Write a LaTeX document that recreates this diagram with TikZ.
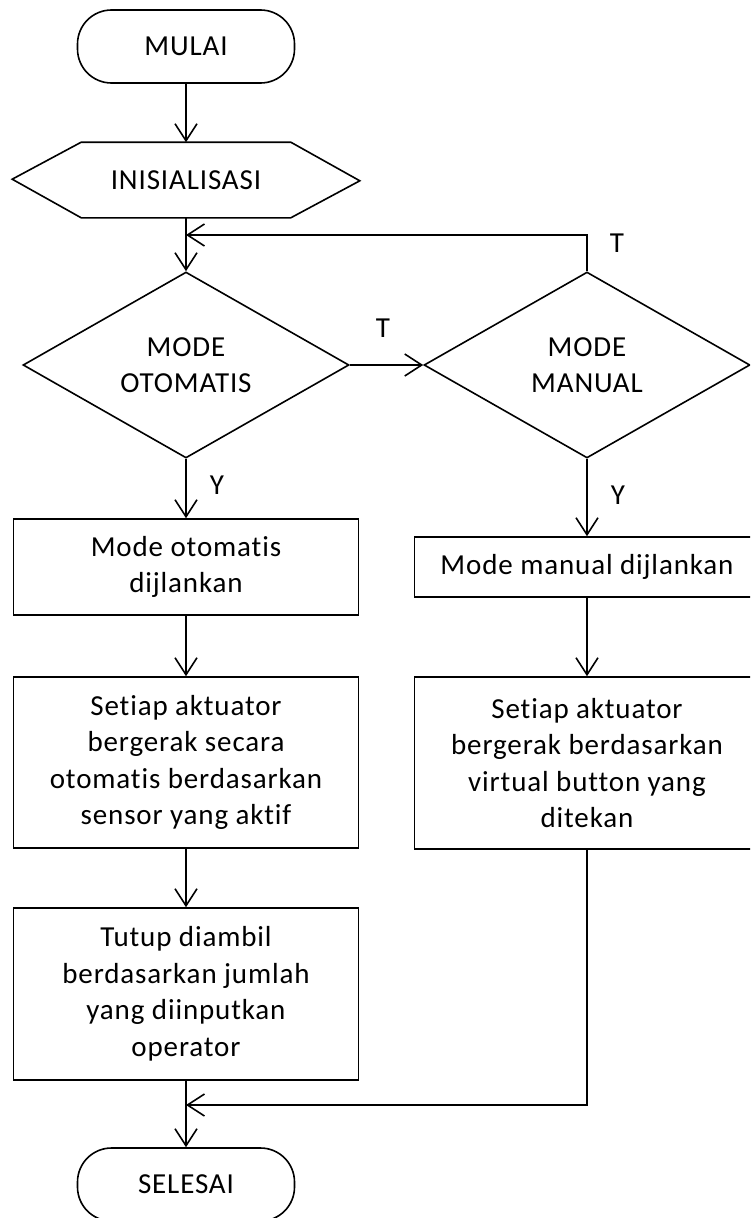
\documentclass[tikz,border=0pt]{standalone}
\usepackage{fontspec}
\setmainfont{Carlito}[Ligatures=NoCommon, LetterSpace=3]
\usetikzlibrary{positioning,arrows.meta,shapes.geometric}

\begin{document}
\begin{tikzpicture}[
  x=1pt, y=-1pt,
  every node/.style={font=\fontsize{29}{36.5}\selectfont, align=center, inner sep=0pt},
  line width=1.6pt,
  >={Straight Barb[length=17pt,width=22pt]},
  terminal/.style={draw, rounded corners=34pt, minimum width=217pt, minimum height=73pt},
  proc/.style={draw, minimum width=345pt},
  decision/.style={diamond, draw, aspect=1.75, minimum width=326pt, minimum height=186pt}
]
\clip (0,0) rectangle (750,1218);
\node[terminal] (start) at (186,46.5) {MULAI};
\node[minimum width=208pt, minimum height=74pt] (init) at (186,180) {INISIALISASI};
\draw (init.north west) -- ++(-69,37) -- (init.south west) -- (init.south east) -- ++(69,-37) -- (init.north east) -- cycle;
\node[decision] (auto) at (186,365) {MODE\\OTOMATIS};
\node[decision] (manual) at (587,365) {MODE\\MANUAL};
% left column
\node[proc, minimum height=96pt] (autorun) at (186,567) {Mode otomatis\\dijlankan};
\node[proc, minimum height=171pt] (autoact) at (186,762.5) {Setiap aktuator\\bergerak secara\\otomatis berdasarkan\\sensor yang aktif};
\node[proc, minimum height=172pt] (take) at (186,994) {Tutup diambil\\berdasarkan jumlah\\yang diinputkan\\operator};
% right column
\node[proc, minimum height=60pt] (manrun) at (587,567) {Mode manual dijlankan};
\node[proc, minimum height=172pt] (manact) at (587,763) {Setiap aktuator\\bergerak berdasarkan\\virtual button yang\\ditekan};
\node[terminal] (stop) at (186,1184.5) {SELESAI};
\coordinate (loopin) at (186,235);
\coordinate (endin) at (186,1105);
% labels
\node (tauto) at (383,328) {T};
\node (tman) at (617,243) {T};
\node (yauto) at (217,485) {Y};
\node (yman) at (618,495) {Y};
% connectors
\draw[->] (start) -- (init);
\draw[->] (init) -- (auto);
\draw[->] (manual.north) |- (loopin);
\draw[->] (auto.east) -- (manual.west);
\draw[->] (auto.south) -- (autorun.north);
\draw[->] (autorun) -- (autoact);
\draw[->] (autoact) -- (take);
\draw[->] (manual.south) -- (manrun.north);
\draw[->] (manrun) -- (manact);
\draw[->] (manact.south) |- (endin);
\draw[->] (take) -- (stop);
\end{tikzpicture}
\end{document}
